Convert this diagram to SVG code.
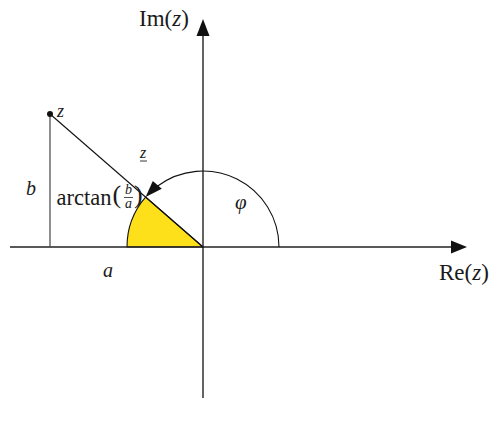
<svg xmlns="http://www.w3.org/2000/svg" width="501" height="426" viewBox="0 0 501 426">
<style>
text{font-family:"Liberation Serif","Times New Roman",serif;fill:#1a1a1a}
.i{font-style:italic}
.ax{stroke:#222;stroke-width:1.4;fill:none}
.ln{stroke:#111;stroke-width:1.1;fill:none}
</style>
<rect width="501" height="426" fill="#fff"/>
<g id="sector">
<path d="M203,247 L127,247 A76,76 0 0 1 145.6,197.1 Z" fill="#fde01a" stroke="#111" stroke-width="1.1"/>
</g>
<g id="connectors">
<line class="ax" x1="10" y1="247" x2="452" y2="247"/>
<polygon points="467,247 451,240.5 451,253.5" fill="#111"/>
<line class="ax" x1="203" y1="398" x2="203" y2="35"/>
<polygon points="203,19 196.5,36 209.5,36" fill="#111"/>
<line x1="50" y1="114" x2="50" y2="247" stroke="#444" stroke-width="1.2"/>
<line class="ln" x1="50" y1="114" x2="203" y2="247"/>
<path class="ln" d="M279,247 A76,76 0 0 0 157.3,186.3" stroke-width="1.4"/>
<polygon points="145.6,197.1 161.8,188.7 152.8,180.9" fill="#111"/>
</g>
<g id="point-z">
<circle cx="50" cy="114" r="3" fill="#111"/>
<text class="i" x="57" y="117" font-size="18">z</text>
</g>
<g id="labels">
<text x="139" y="26" font-size="23">Im(<tspan class="i">z</tspan>)</text>
<text x="439" y="280" font-size="23">Re(<tspan class="i">z</tspan>)</text>
<text class="i" x="26" y="195" font-size="20">b</text>
<text class="i" x="103" y="277" font-size="20">a</text>
<text class="i" x="140" y="158" font-size="16">z</text>
<line x1="140" y1="161" x2="147" y2="161" stroke="#222" stroke-width="0.9"/>
<text class="i" x="235" y="209" font-size="21">φ</text>
<text x="56.5" y="205" font-size="22.5">arctan</text>
<text x="112.5" y="203" font-size="26">(</text>
<text class="i" x="125" y="194" font-size="14">b</text>
<line x1="124" y1="197.5" x2="133" y2="197.5" stroke="#222" stroke-width="0.8"/>
<text class="i" x="125" y="208" font-size="14">a</text>
<text x="134" y="203" font-size="26">)</text>
</g>
</svg>
